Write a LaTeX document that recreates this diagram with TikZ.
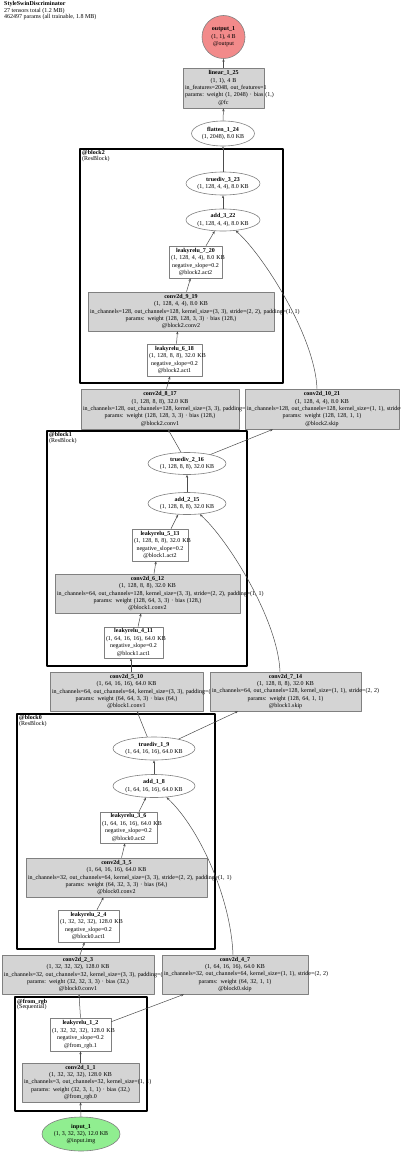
\documentclass[tikz,border=0pt]{standalone}
\usepackage{fontspec}
\setmainfont{Liberation Serif}
\usetikzlibrary{arrows.meta,shapes.geometric}
\definecolor{NetBox}{gray}{0.83}
\definecolor{NetBorder}{gray}{0.5}
\definecolor{NetEdge}{gray}{0.3}
\definecolor{NetInput}{RGB}{144,238,144}
\definecolor{NetOutput}{RGB}{242,138,138}
\newcommand{\netrow}[1]{\mbox{#1}}
\tikzset{
    net/diagram/.style={
        x=1pt, y=-1pt,
        font=\fontsize{6}{7.4}\selectfont,
        line join=round
    },
    net/layer/.style={
        rectangle, draw=NetBorder, fill=NetBox, line width=0.6pt,
        align=center, inner xsep=2pt, inner ysep=0pt
    },
    net/plain/.style={net/layer, fill=white},
    net/tensor/.style={
        ellipse, draw=NetBorder, fill=white, line width=0.6pt,
        align=center, inner xsep=-10pt, inner ysep=-4pt
    },
    net/input/.style={net/tensor, fill=NetInput},
    net/output/.style={net/tensor, fill=NetOutput},
    net/cluster/.style={rectangle, draw=black, line width=2pt, inner sep=0pt},
    net/clustertitle/.style={
        align=left, inner sep=0pt, font=\fontsize{6}{5.6}\selectfont
    },
    net/caption/.style={
        align=left, inner sep=0pt, font=\fontsize{6}{5.3}\selectfont
    },
    net/edge/.style={
        draw=NetEdge, line width=0.5pt,
        -{Stealth[length=3pt, width=2.4pt]}
    }
}

\begin{document}
\begin{tikzpicture}[net/diagram]
    \useasboundingbox (0,0) rectangle (400,1153);
    \node[net/caption, anchor=north west] (caption) at (4,1.5)
        {\textbf{StyleSwinDiscriminator}\\27 tensors total (1.2 MB)\\462497 params (all trainable, 1.8 MB)};

    \node[net/cluster, minimum width=203pt, minimum height=234pt] (block2) at (181.5,266) {};
    \node[net/cluster, minimum width=200pt, minimum height=235pt] (block1) at (147,548.5) {};
    \node[net/cluster, minimum width=198pt, minimum height=235pt] (block0) at (116,831.5) {};
    \node[net/cluster, minimum width=132pt, minimum height=114pt] (fromrgb) at (81,1054) {};
    \node[net/clustertitle, anchor=north west] (block2title) at ([shift={(3pt,-2.6pt)}]block2.north west)
        {\textbf{@block2}\\(ResBlock)};
    \node[net/clustertitle, anchor=north west] (block1title) at ([shift={(3pt,-2.6pt)}]block1.north west)
        {\textbf{@block1}\\(ResBlock)};
    \node[net/clustertitle, anchor=north west] (block0title) at ([shift={(3pt,-2.6pt)}]block0.north west)
        {\textbf{@block0}\\(ResBlock)};
    \node[net/clustertitle, anchor=north west] (fromrgbtitle) at ([shift={(3pt,-2.6pt)}]fromrgb.north west)
        {\textbf{@from\_rgb}\\(Sequential)};

    \node[net/output, minimum width=43pt, minimum height=43pt] (output1) at (223.5,37)
        {\textbf{output\_1}\\(1, 1), 4 B\\@output};
    \node[net/layer, text width=77pt, minimum height=40pt] (linear125) at (223.5,88)
        {\textbf{linear\_1\_25}\\\netrow{(1, 1), 4 B}\\\netrow{in\_features=2048, out\_features=1}\\\netrow{params: weight (1, 2048) · bias (1,)}\\@fc};
    \node[net/tensor, minimum width=63pt, minimum height=25pt] (flatten124) at (223,133.5)
        {\textbf{flatten\_1\_24}\\(1, 2048), 8.0 KB};

    \node[net/tensor, minimum width=74pt, minimum height=23pt] (truediv323) at (223,183.5)
        {\textbf{truediv\_3\_23}\\(1, 128, 4, 4), 8.0 KB};
    \node[net/tensor, minimum width=74pt, minimum height=22pt] (add322) at (223,220)
        {\textbf{add\_3\_22}\\(1, 128, 4, 4), 8.0 KB};
    \node[net/plain, text width=49pt, minimum height=32pt] (lrelu720) at (195.5,262)
        {\textbf{leakyrelu\_7\_20}\\\netrow{(1, 128, 4, 4), 8.0 KB}\\\netrow{negative\_slope=0.2}\\@block2.act2};
    \node[net/layer, text width=182pt, minimum height=39pt] (conv2d919) at (181,311.5)
        {\textbf{conv2d\_9\_19}\\\netrow{(1, 128, 4, 4), 8.0 KB}\\\netrow{in\_channels=128, out\_channels=128, kernel\_size=(3, 3), stride=(2, 2), padding=(1, 1)}\\\netrow{params: weight (128, 128, 3, 3) · bias (128,)}\\@block2.conv2};
    \node[net/plain, text width=51pt, minimum height=32pt] (lrelu618) at (174.5,360)
        {\textbf{leakyrelu\_6\_18}\\\netrow{(1, 128, 8, 8), 32.0 KB}\\\netrow{negative\_slope=0.2}\\@block2.act1};
    \node[net/layer, text width=154pt, minimum height=40pt] (conv2d817) at (160,409)
        {\textbf{conv2d\_8\_17}\\\netrow{(1, 128, 8, 8), 32.0 KB}\\\netrow{in\_channels=128, out\_channels=128, kernel\_size=(3, 3), padding=(1, 1)}\\\netrow{params: weight (128, 128, 3, 3) · bias (128,)}\\@block2.conv1};
    \node[net/layer, text width=150pt, minimum height=40pt] (conv2d1021) at (322,409)
        {\textbf{conv2d\_10\_21}\\\netrow{(1, 128, 4, 4), 8.0 KB}\\\netrow{in\_channels=128, out\_channels=128, kernel\_size=(1, 1), stride=(2, 2)}\\\netrow{params: weight (128, 128, 1, 1)}\\@block2.skip};

    \node[net/tensor, minimum width=78pt, minimum height=22pt] (truediv216) at (187,463.5)
        {\textbf{truediv\_2\_16}\\(1, 128, 8, 8), 32.0 KB};
    \node[net/tensor, minimum width=78pt, minimum height=22pt] (add215) at (187,503.5)
        {\textbf{add\_2\_15}\\(1, 128, 8, 8), 32.0 KB};
    \node[net/plain, text width=52pt, minimum height=32pt] (lrelu513) at (160,545)
        {\textbf{leakyrelu\_5\_13}\\\netrow{(1, 128, 8, 8), 32.0 KB}\\\netrow{negative\_slope=0.2}\\@block1.act2};
    \node[net/layer, text width=181pt, minimum height=39pt] (conv2d612) at (147.5,593.5)
        {\textbf{conv2d\_6\_12}\\\netrow{(1, 128, 8, 8), 32.0 KB}\\\netrow{in\_channels=64, out\_channels=128, kernel\_size=(3, 3), stride=(2, 2), padding=(1, 1)}\\\netrow{params: weight (128, 64, 3, 3) · bias (128,)}\\@block1.conv2};
    \node[net/plain, text width=55pt, minimum height=31pt] (lrelu411) at (133.5,642.5)
        {\textbf{leakyrelu\_4\_11}\\\netrow{(1, 64, 16, 16), 64.0 KB}\\\netrow{negative\_slope=0.2}\\@block1.act1};
    \node[net/layer, text width=149pt, minimum height=39pt] (conv2d510) at (126.5,691.5)
        {\textbf{conv2d\_5\_10}\\\netrow{(1, 64, 16, 16), 64.0 KB}\\\netrow{in\_channels=64, out\_channels=64, kernel\_size=(3, 3), padding=(1, 1)}\\\netrow{params: weight (64, 64, 3, 3) · bias (64,)}\\@block1.conv1};
    \node[net/layer, text width=147pt, minimum height=39pt] (conv2d714) at (285.5,691.5)
        {\textbf{conv2d\_7\_14}\\\netrow{(1, 128, 8, 8), 32.0 KB}\\\netrow{in\_channels=64, out\_channels=128, kernel\_size=(1, 1), stride=(2, 2)}\\\netrow{params: weight (128, 64, 1, 1)}\\@block1.skip};

    \node[net/tensor, minimum width=82pt, minimum height=23pt] (truediv19) at (154,748.5)
        {\textbf{truediv\_1\_9}\\(1, 64, 16, 16), 64.0 KB};
    \node[net/tensor, minimum width=82pt, minimum height=23pt] (add18) at (154,786)
        {\textbf{add\_1\_8}\\(1, 64, 16, 16), 64.0 KB};
    \node[net/plain, text width=53pt, minimum height=31pt] (lrelu36) at (128.5,827.5)
        {\textbf{leakyrelu\_3\_6}\\\netrow{(1, 64, 16, 16), 64.0 KB}\\\netrow{negative\_slope=0.2}\\@block0.act2};
    \node[net/layer, text width=177pt, minimum height=39pt] (conv2d35) at (116.5,877.5)
        {\textbf{conv2d\_3\_5}\\\netrow{(1, 64, 16, 16), 64.0 KB}\\\netrow{in\_channels=32, out\_channels=64, kernel\_size=(3, 3), stride=(2, 2), padding=(1, 1)}\\\netrow{params: weight (64, 32, 3, 3) · bias (64,)}\\@block0.conv2};
    \node[net/plain, text width=57pt, minimum height=32pt] (lrelu24) at (88.5,926)
        {\textbf{leakyrelu\_2\_4}\\\netrow{(1, 32, 32, 32), 128.0 KB}\\\netrow{negative\_slope=0.2}\\@block0.act1};
    \node[net/layer, text width=148pt, minimum height=39pt] (conv2d23) at (78,974.5)
        {\textbf{conv2d\_2\_3}\\\netrow{(1, 32, 32, 32), 128.0 KB}\\\netrow{in\_channels=32, out\_channels=32, kernel\_size=(3, 3), padding=(1, 1)}\\\netrow{params: weight (32, 32, 3, 3) · bias (32,)}\\@block0.conv1};
    \node[net/layer, text width=142pt, minimum height=39pt] (conv2d47) at (235,974.5)
        {\textbf{conv2d\_4\_7}\\\netrow{(1, 64, 16, 16), 64.0 KB}\\\netrow{in\_channels=32, out\_channels=64, kernel\_size=(1, 1), stride=(2, 2)}\\\netrow{params: weight (64, 32, 1, 1)}\\@block0.skip};

    \node[net/plain, text width=57pt, minimum height=33pt] (lrelu12) at (80.5,1034.5)
        {\textbf{leakyrelu\_1\_2}\\\netrow{(1, 32, 32, 32), 128.0 KB}\\\netrow{negative\_slope=0.2}\\@from\_rgb.1};
    \node[net/layer, text width=113pt, minimum height=39pt] (conv2d11) at (80.5,1082.5)
        {\textbf{conv2d\_1\_1}\\\netrow{(1, 32, 32, 32), 128.0 KB}\\\netrow{in\_channels=3, out\_channels=32, kernel\_size=(1, 1)}\\\netrow{params: weight (32, 3, 1, 1) · bias (32,)}\\@from\_rgb.0};
    \node[net/input, minimum width=78pt, minimum height=34pt] (input1) at (81,1134)
        {\textbf{input\_1}\\(1, 3, 32, 32), 12.0 KB\\@input.img};

    \draw[net/edge] (input1.north) -- (conv2d11.south);
    \draw[net/edge] (conv2d11.north) -- (lrelu12.south);
    \draw[net/edge] (lrelu12.north) -- ([xshift=1pt]conv2d23.south);
    \draw[net/edge] ([yshift=-4pt]lrelu12.north east) -- ([xshift=-51pt]conv2d47.south);
    \draw[net/edge] ([xshift=2pt]conv2d23.north) -- ([xshift=-4pt]lrelu24.south);
    \draw[net/edge] ([xshift=8.5pt]lrelu24.north) -- ([xshift=-13pt]conv2d35.south);
    \draw[net/edge] ([xshift=5pt]conv2d35.north) -- ([xshift=-3.5pt]lrelu36.south);
    \draw[net/edge] ([xshift=10.5pt]lrelu36.north) -- (add18.-125);
    \draw[net/edge] ([xshift=-2pt]conv2d47.north) .. controls +(-2,-55) and +(34,32) .. (add18.-42);
    \draw[net/edge] (add18.north) -- (truediv19.south);
    \draw[net/edge] (truediv19.120) -- ([xshift=10.5pt]conv2d510.south);
    \draw[net/edge] (truediv19.21) -- ([xshift=-47.5pt]conv2d714.south);
    \draw[net/edge] ([xshift=4.5pt]conv2d510.north) -- ([xshift=-2.5pt]lrelu411.south);
    \draw[net/edge] ([xshift=4.5pt]lrelu411.north) -- ([xshift=-6.5pt]conv2d612.south);
    \draw[net/edge] ([xshift=6.5pt]conv2d612.north) -- ([xshift=-4pt]lrelu513.south);
    \draw[net/edge] ([xshift=11pt]lrelu513.north) -- (add215.-129);
    \draw[net/edge] ([xshift=-5.5pt]conv2d714.north) .. controls +(-2,-52) and +(28,25) .. (add215.-40);
    \draw[net/edge] (add215.north) -- (truediv216.south);
    \draw[net/edge] (truediv216.118) -- ([xshift=8pt]conv2d817.south);
    \draw[net/edge] (truediv216.21) -- ([xshift=-49pt]conv2d1021.south);
    \draw[net/edge] ([xshift=6.5pt]conv2d817.north) -- ([xshift=-4.5pt]lrelu618.south);
    \draw[net/edge] ([xshift=2pt]lrelu618.north) -- ([xshift=-3.5pt]conv2d919.south);
    \draw[net/edge] ([xshift=5.5pt]conv2d919.north) -- ([xshift=-5pt]lrelu720.south);
    \draw[net/edge] ([xshift=10.5pt]lrelu720.north) -- (add322.-127);
    \draw[net/edge] ([xshift=-5pt]conv2d1021.north) .. controls +(-2,-52) and +(28,25) .. (add322.-40);
    \draw[net/edge] (add322.north) -- (truediv323.south);
    \draw[net/edge] (truediv323.north) -- (flatten124.south);
    \draw[net/edge] (flatten124.north) -- (linear125.south);
    \draw[net/edge] (linear125.north) -- (output1.south);
\end{tikzpicture}
\end{document}
